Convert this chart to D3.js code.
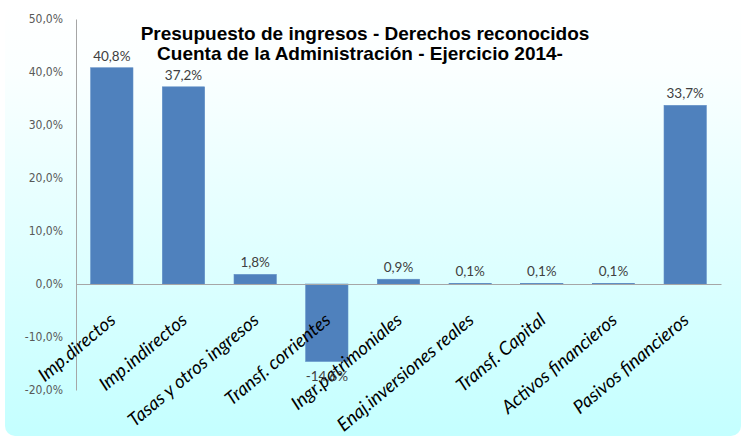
<!DOCTYPE html>
<html><head><meta charset="utf-8">
<script src="https://cdn.jsdelivr.net/npm/d3@7"></script>
<style>body{margin:0;background:#fff}svg{display:block}</style>
</head><body><svg id="c" width="744" height="439"></svg>
<script>
const categories = ["Imp.directos","Imp.indirectos","Tasas y otros ingresos","Transf. corrientes","Ingr.patrimoniales","Enaj.inversiones reales","Transf. Capital","Activos financieros","Pasivos financieros"];
const values = [40.8, 37.2, 1.8, -14.6, 0.9, 0.1, 0.1, 0.1, 33.7];
const valueLabels = ["40,8%","37,2%","1,8%","-14,6%","0,9%","0,1%","0,1%","0,1%","33,7%"];
const yTicks = [-20,-10,0,10,20,30,40,50];
const yTickLabels = ["-20,0%","-10,0%","0,0%","10,0%","20,0%","30,0%","40,0%","50,0%"];
const titleLines = ["Presupuesto de ingresos - Derechos reconocidos","Cuenta de la Administración - Ejercicio 2014-"];

const svg = d3.select("#c");
const defs = svg.append("defs");
const g = defs.append("linearGradient").attr("id","bg").attr("x1",0).attr("y1",0).attr("x2",0).attr("y2",1);
g.append("stop").attr("offset","0%").attr("stop-color","#ffffff");
g.append("stop").attr("offset","15%").attr("stop-color","#fbffff");
g.append("stop").attr("offset","100%").attr("stop-color","#c4ffff");
svg.append("rect").attr("x",5).attr("y",3).attr("width",736).attr("height",433).attr("rx",10).attr("fill","url(#bg)");

const x = d3.scaleBand().domain(categories).range([76,721]).paddingInner(0.41).paddingOuter(0.205);
const y = d3.scaleLinear().domain([-20,50]).range([390,19]);

// y axis
const yAxis = d3.axisLeft(y).tickValues(yTicks).tickSize(0).tickFormat((d,i)=>yTickLabels[i]);
const ya = svg.append("g").attr("transform","translate(76,0)").call(yAxis);
ya.select(".domain").attr("stroke","#a6a6a6").attr("stroke-width",1);
ya.selectAll("text").attr("x",-13).attr("fill","#595959")
  .style("font-family","'Liberation Sans Narrow','DejaVu Sans Condensed',sans-serif").style("font-stretch","condensed").style("font-size","12px");

// bars
svg.append("g").selectAll("rect").data(values).join("rect")
  .attr("x",(d,i)=>x(categories[i]))
  .attr("width",x.bandwidth())
  .attr("y",d=>y(Math.max(0,d)))
  .attr("height",d=>Math.abs(y(d)-y(0)))
  .attr("fill","#4f81bd").attr("stroke","#5a8ac3").attr("stroke-width",0.6);

// zero line
const xAxis = d3.axisBottom(x).tickSize(0).tickFormat("");
const xa = svg.append("g").attr("transform",`translate(0,${y(0)})`).call(xAxis);
xa.select(".domain").attr("stroke","#a6a6a6").attr("stroke-width",1.2);

// category labels
svg.append("g").selectAll("text").data(categories).join("text")
  .attr("transform",d=>`translate(${x(d)+x.bandwidth()/2+5},${y(0)+38}) rotate(-40)`)
  .attr("text-anchor","end")
  .attr("fill","#000")
  .style("font-family","Lato, 'Open Sans', sans-serif").style("font-style","italic").style("font-size","18.5px")
  .text(d=>d);

// value labels
svg.append("g").selectAll("text").data(values).join("text")
  .attr("x",(d,i)=>x(categories[i])+x.bandwidth()/2)
  .attr("y",d=> d>=0 ? y(d)-7 : y(d)+20)
  .attr("text-anchor","middle").attr("fill","#404040")
  .style("font-family","Lato, 'Open Sans', sans-serif").style("font-size","13.5px")
  .text((d,i)=>valueLabels[i]);

// title
svg.append("g").selectAll("text").data(titleLines).join("text")
  .attr("x",(d,i)=> i===0?365:360).attr("y",(d,i)=>40+i*20)
  .attr("text-anchor","middle").attr("fill","#000")
  .style("font-family","'Liberation Sans', Arial, sans-serif").style("font-weight","bold").style("font-size","19px")
  .text(d=>d);
</script></body></html>
